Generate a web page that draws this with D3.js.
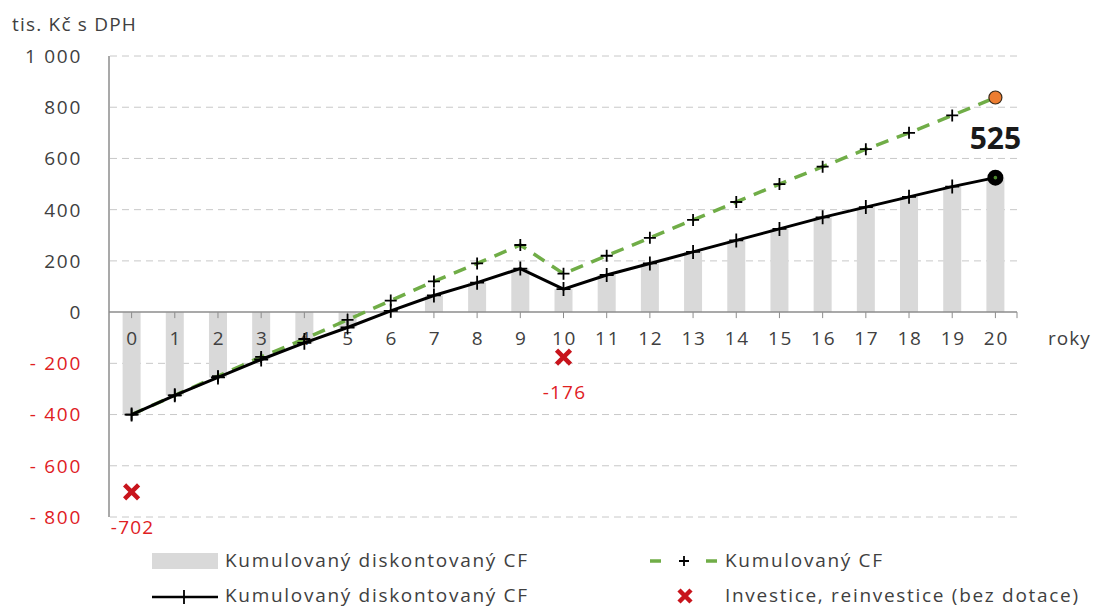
<!DOCTYPE html>
<html>
<head>
<meta charset="utf-8">
<script src="https://cdn.jsdelivr.net/npm/d3@7"></script>
<style>
  body { margin: 0; background: #fff; }
  svg text { font-family: "Open Sans", "DejaVu Sans", sans-serif; }
</style>
</head>
<body>
<svg id="chart" width="1096" height="610"></svg>
<script>
// --- Data ---
const years = d3.range(0, 21);
const discountedCF = [-400, -325, -255, -185, -120, -60, 5, 65, 115, 170, 90, 145, 190, 235, 280, 325, 370, 410, 450, 490, 525];
const cumulativeCF = [-400, -325, -250, -175, -105, -30, 45, 120, 190, 262, 150, 220, 290, 360, 430, 500, 568, 636, 700, 768, 838];
const investYears = [0, 10];
const investValues = [-702, -176];
const yTicks = [-800, -600, -400, -200, 0, 200, 400, 600, 800, 1000];

// --- Layout ---
const plotLeft = 110, plotRight = 1017, plotTop = 56, plotBottom = 517;
const textColor = "#404040";
const red = "#e0201f";
const fontSize = "19px";
const spacing = "1.7px";

const svg = d3.select("#chart");

const x = d3.scaleBand()
    .domain(years)
    .range([plotLeft, plotRight]);

const y = d3.scaleLinear()
    .domain([-800, 1000])
    .range([plotBottom, plotTop]);

const cx = function (d) { return x(d) + x.bandwidth() / 2; };

// Gridlines
svg.append("g")
    .selectAll("line")
    .data(yTicks.filter(function (d) { return d !== 0; }))
    .enter()
    .append("line")
    .attr("x1", plotLeft)
    .attr("x2", plotRight)
    .attr("y1", function (d) { return y(d); })
    .attr("y2", function (d) { return y(d); })
    .attr("stroke", "#c8c8c8")
    .attr("stroke-width", 1)
    .attr("stroke-dasharray", "7,5");

// Y tick labels
svg.append("g")
    .selectAll("text")
    .data(yTicks)
    .enter()
    .append("text")
    .attr("x", 82)
    .attr("y", function (d) { return y(d); })
    .attr("dy", "0.36em")
    .attr("text-anchor", "end")
    .attr("font-size", fontSize)
    .attr("letter-spacing", spacing)
    .attr("fill", function (d) { return d < 0 ? red : textColor; })
    .text(function (d) {
        if (d < 0) return "- " + (-d);
        if (d >= 1000) return "1 000";
        return d;
    });

// Bars (cumulative discounted CF)
svg.append("g")
    .selectAll("rect")
    .data(years)
    .enter()
    .append("rect")
    .attr("x", function (d) { return cx(d) - 9; })
    .attr("width", 18)
    .attr("y", function (d) { return y(Math.max(0, discountedCF[d])); })
    .attr("height", function (d) { return Math.abs(y(discountedCF[d]) - y(0)); })
    .attr("fill", "#d9d9d9");

// Axes lines
svg.append("line")
    .attr("x1", plotLeft - 1).attr("x2", plotLeft - 1)
    .attr("y1", plotTop).attr("y2", plotBottom)
    .attr("stroke", "#8c8c8c").attr("stroke-width", 1.5);

svg.append("line")
    .attr("x1", plotLeft - 1).attr("x2", plotRight)
    .attr("y1", y(0)).attr("y2", y(0))
    .attr("stroke", "#8c8c8c").attr("stroke-width", 1.5);

// X ticks
svg.append("g")
    .selectAll("line")
    .data(years)
    .enter()
    .append("line")
    .attr("x1", cx).attr("x2", cx)
    .attr("y1", y(0)).attr("y2", y(0) + 6)
    .attr("stroke", "#8c8c8c");

svg.append("line")
    .attr("x1", plotRight).attr("x2", plotRight)
    .attr("y1", y(0)).attr("y2", y(0) + 6)
    .attr("stroke", "#8c8c8c");

svg.append("g")
    .selectAll("text")
    .data(years)
    .enter()
    .append("text")
    .attr("x", function (d) { return cx(d) + 1; })
    .attr("y", y(0) + 33)
    .attr("text-anchor", "middle")
    .attr("font-size", fontSize)
    .attr("letter-spacing", spacing)
    .attr("fill", textColor)
    .text(function (d) { return d; });

svg.append("text")
    .attr("x", 1048).attr("y", y(0) + 33)
    .attr("font-size", fontSize)
    .attr("letter-spacing", "1px")
    .attr("fill", textColor)
    .text("roky");

svg.append("text")
    .attr("x", 12).attr("y", 31)
    .attr("font-size", fontSize)
    .attr("letter-spacing", "1.2px")
    .attr("fill", textColor)
    .text("tis. Kč s DPH");

// Plus marker helper
function plus(g, px, py, size, color) {
    g.append("path")
        .attr("d", "M" + (px - size) + "," + py + "H" + (px + size) + "M" + px + "," + (py - size) + "V" + (py + size))
        .attr("stroke", color)
        .attr("stroke-width", 1.8)
        .attr("fill", "none");
}

// Cumulative CF (green dashed)
const line = d3.line()
    .x(function (d, i) { return cx(years[i]); })
    .y(function (d) { return y(d); });

svg.append("path")
    .datum(cumulativeCF)
    .attr("d", line)
    .attr("fill", "none")
    .attr("stroke", "#70ad47")
    .attr("stroke-width", 3.5)
    .attr("stroke-dasharray", "13,9");

const gPlusG = svg.append("g");
cumulativeCF.forEach(function (v, i) {
    if (i === 20) return;
    plus(gPlusG, cx(years[i]), y(v), 6, "#000");
});

// Cumulative discounted CF (black line)
svg.append("path")
    .datum(discountedCF)
    .attr("d", line)
    .attr("fill", "none")
    .attr("stroke", "#000")
    .attr("stroke-width", 3);

const bPlusG = svg.append("g");
discountedCF.forEach(function (v, i) {
    plus(bPlusG, cx(years[i]), y(v), 7, "#000");
});

// End markers
svg.append("circle")
    .attr("cx", cx(20)).attr("cy", y(cumulativeCF[20]))
    .attr("r", 6.5)
    .attr("fill", "#ed7d31")
    .attr("stroke", "#3a2a1a").attr("stroke-width", 1.2);

svg.append("circle")
    .attr("cx", cx(20)).attr("cy", y(discountedCF[20]))
    .attr("r", 6.5)
    .attr("fill", "#000")
    .attr("stroke", "#000").attr("stroke-width", 3);

svg.append("circle")
    .attr("cx", cx(20)).attr("cy", y(discountedCF[20]))
    .attr("r", 1.8)
    .attr("fill", "#4f8a2e");

svg.append("text")
    .attr("x", cx(20)).attr("y", y(discountedCF[20]) - 29)
    .attr("text-anchor", "middle")
    .attr("font-size", "30px")
    .attr("font-weight", "bold")
    .attr("fill", "#1a1a1a")
    .text(discountedCF[20]);

// Investment markers
function cross(g, px, py, size, color) {
    g.append("path")
        .attr("d", "M" + (px - size) + "," + (py - size) + "L" + (px + size) + "," + (py + size) +
            "M" + (px + size) + "," + (py - size) + "L" + (px - size) + "," + (py + size))
        .attr("stroke", color)
        .attr("stroke-width", 4.5)
        .attr("fill", "none");
}

const invG = svg.append("g");
investYears.forEach(function (yr, i) {
    cross(invG, cx(yr), y(investValues[i]), 7, "#c8141c");
    invG.append("text")
        .attr("x", cx(yr) + 1)
        .attr("y", y(investValues[i]) + 42)
        .attr("text-anchor", "middle")
        .attr("font-size", fontSize)
        .attr("letter-spacing", "1.2px")
        .attr("fill", red)
        .text(investValues[i]);
});

// Legend
const legend = svg.append("g");
legend.append("rect")
    .attr("x", 152).attr("y", 553).attr("width", 66).attr("height", 16)
    .attr("fill", "#d9d9d9");
legend.append("text")
    .attr("x", 225).attr("y", 567)
    .attr("font-size", fontSize).attr("letter-spacing", spacing).attr("fill", textColor)
    .text("Kumulovaný diskontovaný CF");

legend.append("line")
    .attr("x1", 152).attr("x2", 218).attr("y1", 597).attr("y2", 597)
    .attr("stroke", "#000").attr("stroke-width", 2.5);
plus(legend, 184, 597, 7, "#000");
legend.append("text")
    .attr("x", 225).attr("y", 602)
    .attr("font-size", fontSize).attr("letter-spacing", spacing).attr("fill", textColor)
    .text("Kumulovaný diskontovaný CF");

legend.append("line")
    .attr("x1", 650).attr("x2", 718).attr("y1", 561).attr("y2", 561)
    .attr("stroke", "#70ad47").attr("stroke-width", 3.5)
    .attr("stroke-dasharray", "11,45");
plus(legend, 684, 561, 5, "#000");
legend.append("text")
    .attr("x", 725).attr("y", 567)
    .attr("font-size", fontSize).attr("letter-spacing", spacing).attr("fill", textColor)
    .text("Kumulovaný CF");

cross(legend, 685, 596, 6, "#c8141c");
legend.append("text")
    .attr("x", 725).attr("y", 602)
    .attr("font-size", fontSize).attr("letter-spacing", spacing).attr("fill", textColor)
    .text("Investice, reinvestice (bez dotace)");
</script>
</body>
</html>
